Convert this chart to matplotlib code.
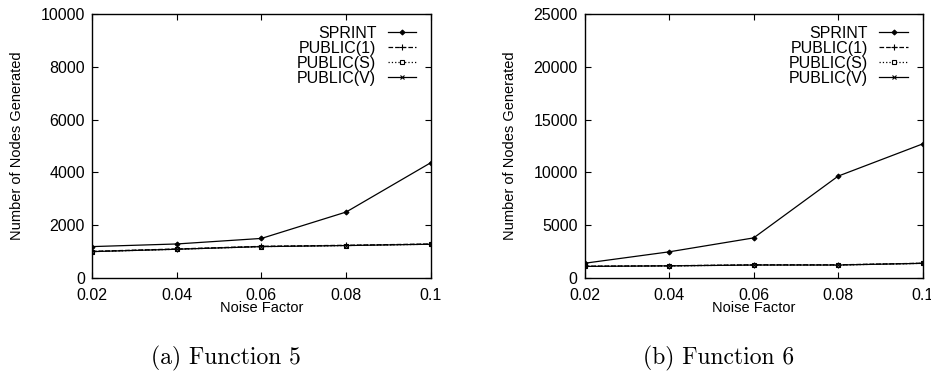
import matplotlib
matplotlib.use("Agg")
import matplotlib.pyplot as plt

plt.rcParams['font.family'] = ['Liberation Sans', 'DejaVu Sans']

noise = [0.02, 0.04, 0.06, 0.08, 0.1]
series_names = ['SPRINT', 'PUBLIC(1)', 'PUBLIC(S)', 'PUBLIC(V)']

# Function 5
f5_sprint = [1190, 1290, 1500, 2500, 4370]
f5_public1 = [1010, 1100, 1200, 1240, 1290]
f5_publics = [1000, 1090, 1190, 1230, 1280]
f5_publicv = [1000, 1090, 1190, 1230, 1280]

# Function 6
f6_sprint = [1400, 2480, 3800, 9650, 12700]
f6_public1 = [1120, 1160, 1250, 1250, 1400]
f6_publics = [1100, 1150, 1230, 1230, 1390]
f6_publicv = [1100, 1150, 1230, 1230, 1390]

styles = [
    dict(ls='-', marker='D', ms=2.5, mfc='black'),
    dict(ls='--', marker='+', ms=5),
    dict(ls=':', marker='s', ms=3, mfc='white'),
    dict(ls='-', marker='x', ms=3.5),
]

fig = plt.figure(figsize=(9.31, 3.76), dpi=100)
ax1 = fig.add_axes([0.0988, 0.2606, 0.364, 0.702])
ax2 = fig.add_axes([0.628, 0.2606, 0.363, 0.702])

panels = [
    (ax1, [f5_sprint, f5_public1, f5_publics, f5_publicv], 10000, [0, 2000, 4000, 6000, 8000, 10000]),
    (ax2, [f6_sprint, f6_public1, f6_publics, f6_publicv], 25000, [0, 5000, 10000, 15000, 20000, 25000]),
]

fs = 11.5
for ax, data, ymax, yticks in panels:
    for name, vals, st in zip(series_names, data, styles):
        ax.plot(noise, vals, color='black', lw=0.9, mew=0.8, label=name, **st)
    ax.set_xlim(0.02, 0.1)
    ax.set_ylim(0, ymax)
    ax.set_xticks(noise)
    ax.set_xticklabels(['0.02', '0.04', '0.06', '0.08', '0.1'])
    ax.set_yticks(yticks)
    ax.tick_params(direction='in', top=True, right=True, length=4, width=0.8,
                   labelsize=fs)
    ax.tick_params(axis='x', pad=7)
    ax.tick_params(axis='y', pad=5)
    for sp in ax.spines.values():
        sp.set_linewidth(1.0)
    ax.set_xlabel('Noise Factor', fontsize=10.5, labelpad=-1)
    ax.set_ylabel('Number of Nodes Generated', fontsize=10.5, labelpad=12)
    ax.legend(loc='upper right', frameon=False, markerfirst=False, fontsize=fs,
              labelspacing=0.0, handlelength=1.8, handletextpad=0.7,
              borderaxespad=0.3, bbox_to_anchor=(0.99, 0.998))

fig.text(226 / 931, 1 - 358 / 376, '(a) Function 5', family='cmr10', fontsize=17,
         ha='center', va='center')
fig.text(719 / 931, 1 - 358 / 376, '(b) Function 6', family='cmr10', fontsize=17,
         ha='center', va='center')

fig.savefig('out.png', dpi=100)
